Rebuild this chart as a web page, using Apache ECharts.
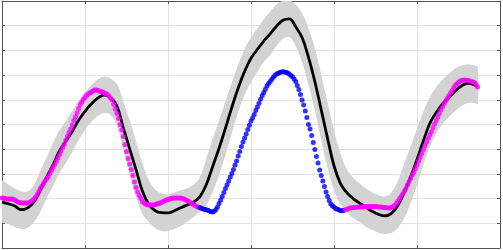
<!DOCTYPE html>
<html>
<head>
<meta charset="utf-8">
<script src="https://cdn.jsdelivr.net/npm/echarts@6/dist/echarts.min.js"></script>
<style>html,body{margin:0;padding:0;background:#fff}#c{width:503px;height:250px}</style>
</head>
<body>
<div id="c"></div>
<script>
// weekly observations (x = week index)
var obsAStart = 0;
var obsA = [2.02,2.01,2.00,1.98,1.98,1.98,1.98,1.97,1.94,1.90,
1.86,1.84,1.82,1.82,1.82,1.82,1.82,1.84,1.88,1.92,
1.98,2.06,2.17,2.29,2.41,2.51,2.61,2.71,2.81,2.89,
3.02,3.14,3.26,3.38,3.50,3.64,3.78,3.93,4.07,4.19,
4.37,4.51,4.68,4.82,4.98,5.16,5.30,5.47,5.65,5.81,
5.91,6.01,6.09,6.17,6.23,6.28,6.32,6.36,6.40,6.40,
6.38,6.36,6.34,6.32,6.28,6.26,6.21,6.15,6.07,5.99,
5.81,5.63,5.45,5.24,5.00,4.78,4.51,4.19,3.91,3.62,
3.40,3.18,2.94,2.67,2.45,2.27,2.13,2.00,1.88,1.82,
1.78,1.75,1.74,1.74,1.74,1.74,1.76,1.78,1.80,1.82,
1.85,1.88,1.91,1.94,1.96,1.98,2.00,2.02,2.02,2.02,
2.02,2.02,2.02,2.00,1.98,1.95,1.92,1.88,1.84,1.80,
1.76,1.72,1.68,1.65];
var obsBStart = 124;
var obsB = [1.64,1.61,1.58,1.56,1.55,1.53,1.50,1.47,1.46,1.49,
1.56,1.66,1.80,1.94,2.09,2.25,2.41,2.56,2.71,2.87,
3.02,3.18,3.36,3.52,3.72,3.91,4.11,4.29,4.45,4.62,
4.80,4.97,5.14,5.26,5.40,5.57,5.71,5.86,6.02,6.17,
6.30,6.43,6.56,6.66,6.74,6.83,6.91,6.98,7.04,7.07,
7.11,7.13,7.14,7.13,7.11,7.08,7.04,6.98,6.93,6.84,
6.74,6.58,6.42,6.21,5.99,5.79,5.55,5.28,5.00,4.82,
4.55,4.27,3.99,3.70,3.44,3.16,2.94,2.71,2.49,2.27,
2.09,1.92,1.78,1.71,1.66,1.60,1.57,1.55,1.52,1.51,
1.52];
var obsCStart = 215;
var obsC = [1.55,1.57,1.59,1.62,1.63,1.63,1.64,1.65,1.65,1.66,
1.67,1.66,1.68,1.68,1.67,1.68,1.68,1.67,1.68,1.68,
1.67,1.66,1.66,1.65,1.64,1.64,1.63,1.62,1.62,1.64,
1.67,1.72,1.80,1.89,1.99,2.09,2.19,2.30,2.41,2.55,
2.68,2.81,2.96,3.08,3.21,3.36,3.52,3.67,3.83,3.98,
4.14,4.28,4.43,4.57,4.71,4.87,5.02,5.16,5.30,5.45,
5.60,5.72,5.85,5.96,6.06,6.17,6.28,6.38,6.49,6.58,
6.65,6.71,6.76,6.78,6.79,6.80,6.79,6.78,6.76,6.75,
6.72,6.70,6.62,6.52];

// model fit and its band, at these weeks
var fitWeeks = [0,4,8,12,16,20,24,28,32,36,40,44,48,52,56,60,64,68,72,76,80,84,88,92,96,100,
104,108,112,116,120,124,128,132,136,140,144,148,152,156,160,164,168,172,176,180,184,188,192,196,200,
204,208,212,216,220,224,228,232,236,240,244,248,252,256,260,264,268,272,276,280,284,288,292,296,298];
var fitMean = [1.86,1.79,1.70,1.55,1.62,1.86,2.34,2.87,3.37,3.93,4.33,4.72,5.17,5.53,5.84,6.07,6.19,6.09,5.75,4.86,
4.01,3.16,2.30,1.76,1.51,1.43,1.42,1.51,1.63,1.74,1.86,2.08,2.57,3.30,4.04,4.85,5.70,6.48,7.15,7.68,
8.04,8.38,8.67,8.98,9.22,9.28,8.96,8.52,7.73,6.74,5.59,4.43,3.33,2.62,2.24,2.00,1.82,1.64,1.48,1.36,
1.30,1.40,1.72,2.25,2.87,3.58,4.34,5.04,5.48,5.83,6.09,6.36,6.57,6.67,6.60,6.52];
var fitUpper = [2.71,2.55,2.39,2.27,2.27,2.51,3.08,3.64,4.21,4.74,5.10,5.51,5.91,6.28,6.56,6.80,6.92,6.84,6.60,5.87,
5.10,4.25,3.36,2.71,2.35,2.19,2.15,2.23,2.31,2.39,2.55,2.83,3.56,4.37,5.10,5.87,6.64,7.37,8.02,8.50,
8.87,9.23,9.55,9.84,10.0,10.0,9.84,9.47,8.83,8.02,6.92,5.79,4.66,3.77,3.16,2.83,2.59,2.39,2.23,2.11,
2.06,2.23,2.67,3.36,4.05,4.78,5.47,6.07,6.48,6.80,7.04,7.25,7.37,7.41,7.37,7.33];
var fitLower = [1.05,0.97,0.85,0.77,0.81,1.05,1.46,2.02,2.51,3.04,3.44,3.89,4.37,4.78,5.10,5.34,5.47,5.38,4.94,3.97,
2.96,2.06,1.38,1.05,0.81,0.69,0.69,0.77,0.89,1.05,1.26,1.46,1.74,2.27,2.96,3.77,4.66,5.51,6.19,6.72,
7.13,7.53,7.81,8.18,8.46,8.54,8.18,7.53,6.60,5.59,4.37,3.24,2.35,1.78,1.46,1.21,1.05,0.85,0.73,0.61,
0.57,0.61,0.81,1.21,1.82,2.55,3.36,4.09,4.62,5.02,5.30,5.55,5.75,5.87,5.87,5.83];

var xMin = 0, xMax = 312, xStep = 52;
var yMin = 0, yMax = 10, yStep = 1;

function pts(start, arr){ return arr.map(function(v,i){ return [start+i, v]; }); }
var meanPts = fitWeeks.map(function(w,i){ return [w, fitMean[i]]; });
var bandRows = fitWeeks.map(function(w,i){ return [w, fitLower[i], fitUpper[i]]; });

function renderBand(params, api){
  if (params.dataIndex !== 0) return null;
  var upperLine = [], lowerLine = [];
  for (var i = 0; i < fitWeeks.length; i++) {
    upperLine.push(api.coord([fitWeeks[i], fitUpper[i]]));
    lowerLine.push(api.coord([fitWeeks[i], fitLower[i]]));
  }
  var cs = params.coordSys;
  return {
    type:'group',
    children:[
      {type:'polyline', shape:{points:upperLine.concat([]), smooth:0.35}, style:{stroke:'#d3d3d3', fill:null, lineWidth:1}},
      {type:'polygon', shape:{points:upperLine.concat(lowerLine.slice().reverse()), smooth:0.35},
        style:{fill:'#d3d3d3', stroke:null}}
    ],
    clipPath:{type:'rect', shape:{x:cs.x, y:cs.y, width:cs.width, height:cs.height}}
  };
}

var frame = '#555';
function axisCommon(){
  return {
    axisLine:{show:true, onZero:false, lineStyle:{color:frame, width:1}},
    axisTick:{show:true, inside:true, length:3, lineStyle:{color:frame}},
    axisLabel:{show:false}
  };
}
var chart = echarts.init(document.getElementById('c'), null, {renderer:'canvas'});
chart.setOption({
  animation:false,
  backgroundColor:'#fff',
  grid:{left:2, top:1, width:498, height:247, containLabel:false},
  xAxis:[
    Object.assign({type:'value', min:xMin, max:xMax, interval:xStep, position:'bottom',
      splitLine:{show:true, lineStyle:{color:'#e3e3e3', width:1}}}, axisCommon()),
    Object.assign({type:'value', min:xMin, max:xMax, interval:xStep, position:'top',
      splitLine:{show:false}}, axisCommon())
  ],
  yAxis:[
    Object.assign({type:'value', min:yMin, max:yMax, interval:yStep, position:'left',
      splitLine:{show:true, lineStyle:{color:'#e3e3e3', width:1}}}, axisCommon()),
    Object.assign({type:'value', min:yMin, max:yMax, interval:yStep, position:'right',
      splitLine:{show:false}}, axisCommon())
  ],
  series:[
    {type:'custom', data:bandRows, renderItem:renderBand, silent:true, z:1,
     encode:{x:0, y:[1,2]}},
    {type:'line', data:meanPts, smooth:0.4, showSymbol:false,
     lineStyle:{color:'#000', width:2.8}, z:3},
    {type:'scatter', data:pts(obsAStart, obsA), symbolSize:5, itemStyle:{color:'#ff00ff'}, z:4},
    {type:'scatter', data:pts(obsBStart, obsB), symbolSize:5, itemStyle:{color:'#0000ff'}, z:4},
    {type:'scatter', data:pts(obsCStart, obsC), symbolSize:5, itemStyle:{color:'#ff00ff'}, z:4}
  ]
});
</script>
</body>
</html>
